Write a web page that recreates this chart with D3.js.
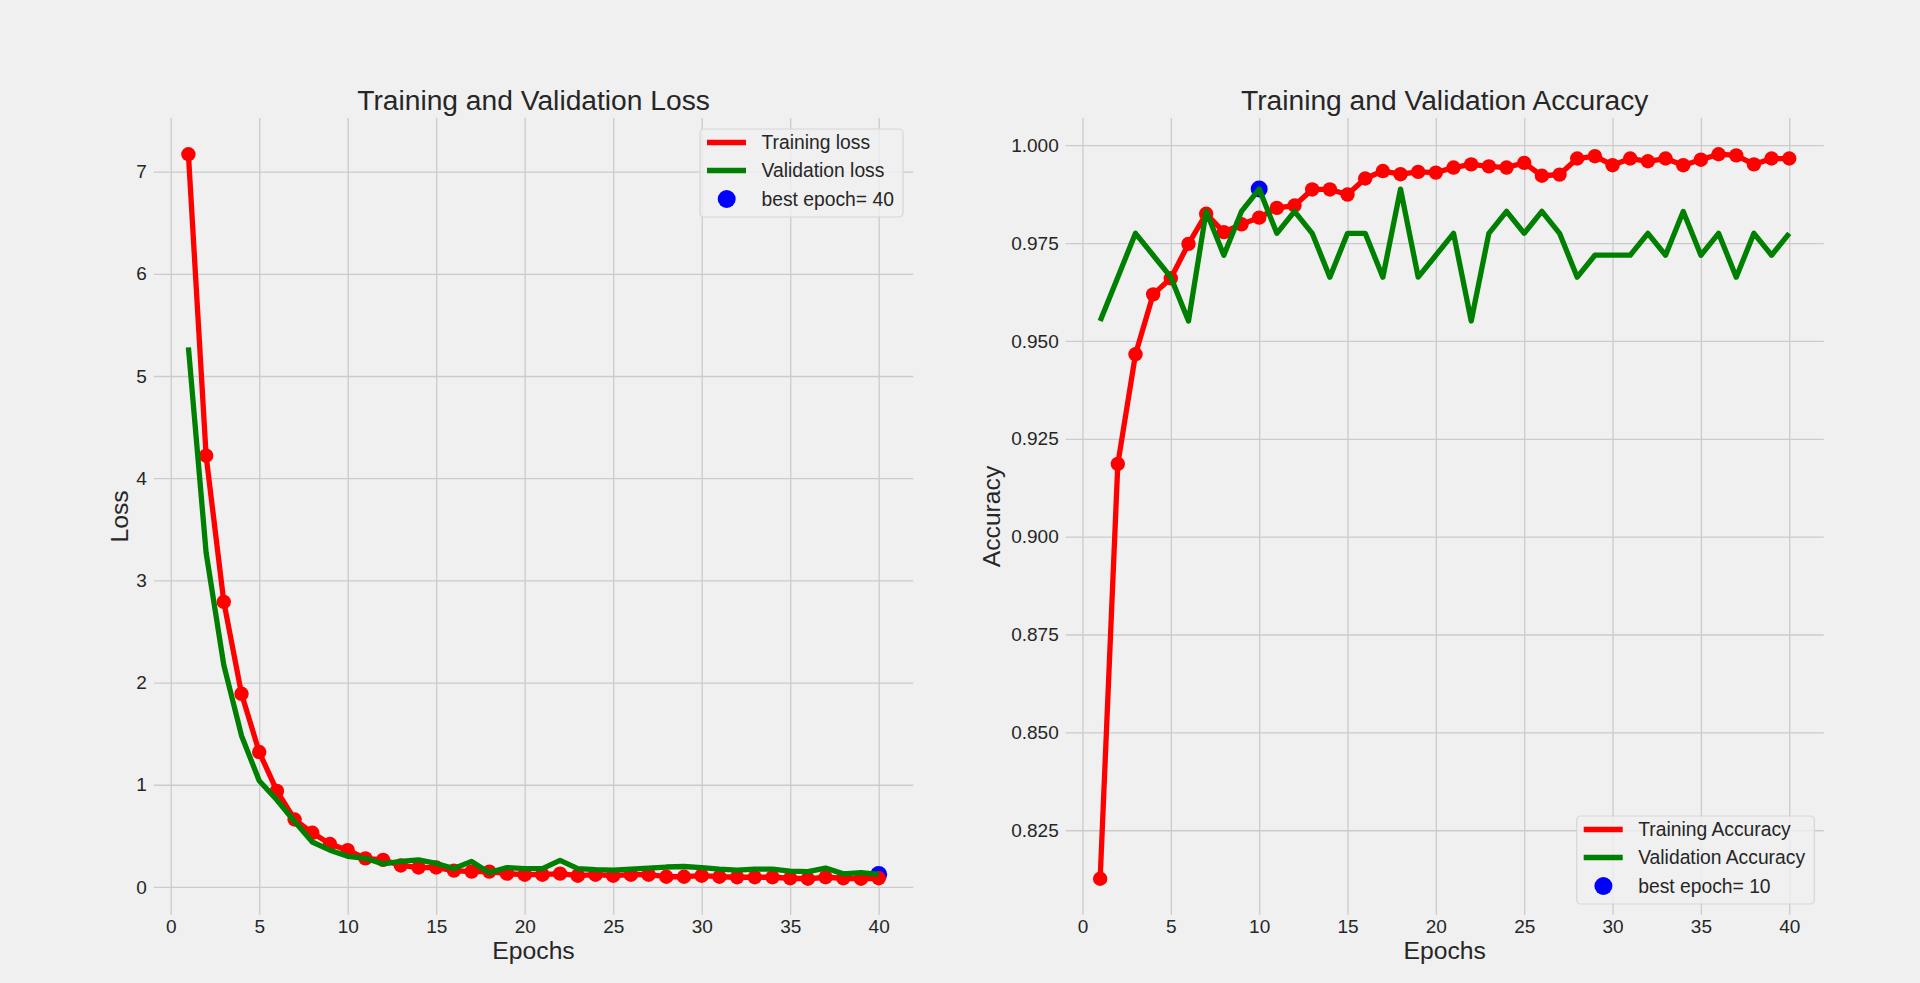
<!DOCTYPE html>
<html>
<head>
<meta charset="utf-8">
<script src="https://cdn.jsdelivr.net/npm/d3@7/dist/d3.min.js"></script>
<style>
  html, body { margin: 0; padding: 0; background: #f0f0f0; }
  svg { display: block; }
  text { font-family: "Liberation Sans", Arial, sans-serif; fill: #262626; }
</style>
</head>
<body>
<svg id="chart" width="1920" height="983"></svg>
<script>
// ---------------- data ----------------
const epochs = [1,2,3,4,5,6,7,8,9,10,11,12,13,14,15,16,17,18,19,20,
                21,22,23,24,25,26,27,28,29,30,31,32,33,34,35,36,37,38,39,40];

const trainLoss = [7.17, 4.22, 2.79, 1.89, 1.32, 0.94, 0.66, 0.53, 0.42, 0.36,
                   0.28, 0.265, 0.21, 0.19, 0.19, 0.16, 0.15, 0.15, 0.13, 0.12,
                   0.12, 0.13, 0.11, 0.12, 0.11, 0.12, 0.12, 0.10, 0.10, 0.11,
                   0.10, 0.095, 0.095, 0.095, 0.085, 0.08, 0.095, 0.085, 0.08, 0.085];

const valLoss = [5.28, 3.27, 2.17, 1.48, 1.04, 0.85, 0.64, 0.44, 0.36, 0.30,
                 0.28, 0.225, 0.25, 0.265, 0.23, 0.18, 0.25, 0.14, 0.19, 0.18,
                 0.18, 0.26, 0.18, 0.17, 0.165, 0.175, 0.185, 0.195, 0.20, 0.19,
                 0.175, 0.165, 0.175, 0.175, 0.155, 0.15, 0.185, 0.128, 0.14, 0.122];

const trainAcc = [0.8126, 0.9186, 0.9466, 0.9619, 0.9660, 0.9748, 0.9825, 0.9778, 0.9798, 0.9815,
                  0.9840, 0.9846, 0.9887, 0.9887, 0.9874, 0.9915, 0.9934, 0.9926, 0.9932, 0.9930,
                  0.9943, 0.9951, 0.9946, 0.9943, 0.9955, 0.9922, 0.9925, 0.9966, 0.9972, 0.9949,
                  0.9966, 0.9959, 0.9966, 0.9949, 0.9963, 0.9977, 0.9974, 0.9951, 0.9966, 0.9966];

const valAcc = [0.9551, 0.9663, 0.9775, 0.9719, 0.9663, 0.9551, 0.9831, 0.9719, 0.9831, 0.9888,
                0.9775, 0.9831, 0.9775, 0.9663, 0.9775, 0.9775, 0.9663, 0.9888, 0.9663, 0.9719,
                0.9775, 0.9551, 0.9775, 0.9831, 0.9775, 0.9831, 0.9775, 0.9663, 0.9719, 0.9719,
                0.9719, 0.9775, 0.9719, 0.9831, 0.9719, 0.9775, 0.9663, 0.9775, 0.9719, 0.9775];

const bestLossEpoch = 40;
const bestAccEpoch = 10;

const xTicks = [0, 5, 10, 15, 20, 25, 30, 35, 40];
const lossTicks = [0, 1, 2, 3, 4, 5, 6, 7];
const accTicks = [0.825, 0.850, 0.875, 0.900, 0.925, 0.950, 0.975, 1.000];

const titles = ["Training and Validation Loss", "Training and Validation Accuracy"];
const yLabels = ["Loss", "Accuracy"];
const xLabel = "Epochs";
const lossLegend = ["Training loss", "Validation loss", "best epoch= " + bestLossEpoch];
const accLegend = ["Training Accuracy", "Validation Accuracy", "best epoch= " + bestAccEpoch];

// ---------------- drawing ----------------
const svg = d3.select("#chart");
svg.append("rect").attr("width", 1920).attr("height", 983).attr("fill", "#f0f0f0");

function padded(lo, hi) { const m = (hi - lo) * 0.05; return [lo - m, hi + m]; }

function panel(cfg) {
  const { left, right, top, bottom } = cfg;
  const g = svg.append("g");
  const allY = cfg.train.concat(cfg.val);
  const x = d3.scaleLinear().domain(padded(d3.min(epochs), d3.max(epochs))).range([left, right]);
  const y = d3.scaleLinear().domain(padded(d3.min(allY), d3.max(allY))).range([bottom, top]);

  const gx = g.append("g").attr("transform", `translate(0,${bottom})`)
    .call(d3.axisBottom(x).tickValues(xTicks).tickSize(-(bottom - top)).tickFormat(d3.format("d")).tickPadding(0));
  gx.select(".domain").remove();
  gx.selectAll("line").attr("stroke", "#cbcbcb").attr("stroke-width", 1.3);
  gx.selectAll("text").attr("font-size", 19).attr("fill", "#262626").attr("dy", null).attr("y", 18);

  const gy = g.append("g").attr("transform", `translate(${left},0)`)
    .call(d3.axisLeft(y).tickValues(cfg.yTicks).tickSize(-(right - left)).tickFormat(cfg.yFormat).tickPadding(7));
  gy.select(".domain").remove();
  gy.selectAll("line").attr("stroke", "#cbcbcb").attr("stroke-width", 1.3);
  gy.selectAll("text").attr("font-size", 19).attr("fill", "#262626");

  const clipId = "clip" + cfg.id;
  svg.append("clipPath").attr("id", clipId).append("rect")
    .attr("x", left).attr("y", top).attr("width", right - left).attr("height", bottom - top);
  const plot = g.append("g").attr("clip-path", `url(#${clipId})`);

  // best epoch scatter (drawn below lines)
  plot.append("circle")
    .attr("cx", x(cfg.best)).attr("cy", y(cfg.val[cfg.best - 1])).attr("r", 8.5).attr("fill", "#0000ff");

  const line = d3.line().x((d, i) => x(epochs[i])).y(d => y(d));
  plot.append("path").datum(cfg.train).attr("d", line)
    .attr("fill", "none").attr("stroke", "#ff0000").attr("stroke-width", 5.3).attr("stroke-linejoin", "round");
  plot.selectAll("circle.tr").data(cfg.train).enter().append("circle").attr("class", "tr")
    .attr("cx", (d, i) => x(epochs[i])).attr("cy", d => y(d)).attr("r", 7.2).attr("fill", "#ff0000");
  plot.append("path").datum(cfg.val).attr("d", line)
    .attr("fill", "none").attr("stroke", "#008000").attr("stroke-width", 5.3).attr("stroke-linejoin", "round");

  g.append("text").attr("x", (left + right) / 2).attr("y", 110).attr("text-anchor", "middle")
    .attr("font-size", 28.2).attr("fill", "#222").text(cfg.title);
  g.append("text").attr("x", (left + right) / 2).attr("y", 959).attr("text-anchor", "middle")
    .attr("font-size", 24.7).attr("fill", "#222").text(xLabel);
  g.append("text").attr("transform", `translate(${cfg.yLabelX},${(top + bottom) / 2}) rotate(-90)`)
    .attr("text-anchor", "middle").attr("dominant-baseline", "central")
    .attr("font-size", 24.7).attr("fill", "#222").text(cfg.yLabel);

  const L = cfg.legend;
  const lg = g.append("g");
  lg.append("rect").attr("x", L.x).attr("y", L.y).attr("width", L.w).attr("height", L.h)
    .attr("rx", 4).attr("fill", "#f0f0f0").attr("fill-opacity", 0.8)
    .attr("stroke", "#d6d6d6").attr("stroke-width", 1.2);
  const rowY = [L.y + 13.5, L.y + 41.5, L.y + 70];
  const colors = ["#ff0000", "#008000"];
  [0, 1].forEach(k => {
    lg.append("line").attr("x1", L.x + 7).attr("x2", L.x + 46).attr("y1", rowY[k]).attr("y2", rowY[k])
      .attr("stroke", colors[k]).attr("stroke-width", 5.3);
  });
  lg.append("circle").attr("cx", L.x + 26.7).attr("cy", rowY[2]).attr("r", 9).attr("fill", "#0000ff");
  L.labels.forEach((t, k) => {
    lg.append("text").attr("x", L.x + 61.5).attr("y", rowY[k]).attr("dy", "0.35em")
      .attr("font-size", 19.3).attr("fill", "#262626").text(t);
  });
}

panel({
  id: "loss", left: 153.9, right: 913.2, top: 118, bottom: 915,
  train: trainLoss, val: valLoss, best: bestLossEpoch,
  yTicks: lossTicks, yFormat: d3.format("d"),
  title: titles[0], yLabel: yLabels[0], yLabelX: 119,
  legend: { x: 700, y: 129, w: 203, h: 88, labels: lossLegend }
});

panel({
  id: "acc", left: 1065.7, right: 1823.7, top: 118, bottom: 915,
  train: trainAcc, val: valAcc, best: bestAccEpoch,
  yTicks: accTicks, yFormat: d3.format(".3f"),
  title: titles[1], yLabel: yLabels[1], yLabelX: 991,
  legend: { x: 1576.7, y: 816, w: 237.6, h: 88, labels: accLegend }
});
</script>
</body>
</html>
